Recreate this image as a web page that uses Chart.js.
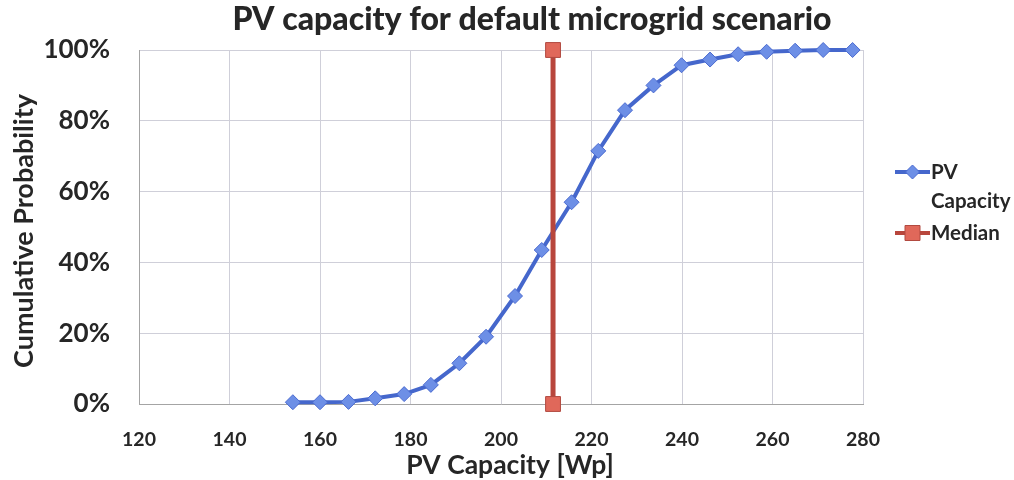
<!DOCTYPE html>
<html>
<head>
<meta charset="utf-8">
<script src="https://cdn.jsdelivr.net/npm/chart.js@4.4.1/dist/chart.umd.min.js"></script>
<style>
  html, body { margin: 0; padding: 0; background: #ffffff; }
  #wrap { width: 1014px; height: 480px; }
</style>
</head>
<body>
<div id="wrap"><canvas id="cdf" width="1014" height="480"></canvas></div>
<script>
// PV capacity samples (Wp) and their cumulative probability
const pvCapacity = [154.0, 160.0, 166.3, 172.2, 178.6, 184.5, 190.8, 196.7, 203.1, 209.0, 215.6,
                    221.5, 227.4, 233.7, 239.9, 246.2, 252.4, 258.7, 265.0, 271.2, 277.7];
const cumulativeProb = [0.005, 0.005, 0.006, 0.016, 0.028, 0.054, 0.115, 0.19, 0.305, 0.435, 0.57,
                        0.715, 0.83, 0.90, 0.957, 0.973, 0.988, 0.995, 0.998, 1.0, 1.0];
// Median marker: vertical line spanning 0..100%
const medianX = [211.5, 211.5];
const medianY = [0, 1];

const xTicks = [120, 140, 160, 180, 200, 220, 240, 260, 280];
const yTicks = [0, 0.2, 0.4, 0.6, 0.8, 1.0];

const titleText = 'PV capacity for default microgrid scenario';
const xTitle = 'PV Capacity [Wp]';
const yTitle = 'Cumulative Probability';
const legendItems = [
  { lines: ['PV', 'Capacity'], line: '#4567cc', fill: '#6d8fe6', stroke: '#4a6ad0', shape: 'diamond' },
  { lines: ['Median'], line: '#b8463c', fill: '#e0685a', stroke: '#b24a40', shape: 'square' }
];

const FONT = 'Lato, "Open Sans", sans-serif';
const TEXT = '#262626';

const toPoints = (xs, ys) => xs.map((x, i) => ({ x: x, y: ys[i] }));

// Title, axis titles and the wrapped legend are painted here
const decorations = {
  id: 'decorations',
  afterDraw(chart) {
    const ctx = chart.ctx;
    ctx.save();
    ctx.fillStyle = TEXT;
    ctx.textAlign = 'center';
    ctx.textBaseline = 'middle';

    ctx.font = '900 32px ' + FONT;
    ctx.fillText(titleText, 532, 20);

    ctx.font = 'bold 26.5px ' + FONT;
    ctx.fillText(xTitle, 510, 465);

    ctx.save();
    ctx.translate(24, 231);
    ctx.rotate(-Math.PI / 2);
    ctx.font = 'bold 27px ' + FONT;
    ctx.fillText(yTitle, 0, 0);
    ctx.restore();

    // legend
    ctx.textAlign = 'left';
    ctx.font = 'bold 20.5px ' + FONT;
    let y = 172;
    legendItems.forEach(item => {
      ctx.strokeStyle = item.line;
      ctx.lineWidth = 4;
      ctx.beginPath();
      ctx.moveTo(895, y);
      ctx.lineTo(930, y);
      ctx.stroke();
      ctx.fillStyle = item.fill;
      ctx.strokeStyle = item.stroke;
      ctx.lineWidth = 1;
      ctx.beginPath();
      if (item.shape === 'diamond') {
        ctx.moveTo(912.5, y - 7); ctx.lineTo(919.5, y); ctx.lineTo(912.5, y + 7); ctx.lineTo(905.5, y);
        ctx.closePath();
      } else {
        ctx.rect(905, y - 7.5, 15, 15);
      }
      ctx.fill();
      ctx.stroke();
      ctx.fillStyle = TEXT;
      item.lines.forEach((t, i) => ctx.fillText(t, 931, y + i * 29));
      y += item.lines.length * 29 + 3;
    });
    ctx.restore();
  }
};

new Chart(document.getElementById('cdf'), {
  type: 'scatter',
  data: {
    datasets: [
      {
        label: 'PV Capacity',
        data: toPoints(pvCapacity, cumulativeProb),
        showLine: true,
        borderColor: '#4567cc',
        borderWidth: 4,
        pointStyle: 'rectRot',
        pointRadius: 7.5,
        pointBackgroundColor: '#6d8fe6',
        pointBorderColor: '#4a6ad0',
        pointBorderWidth: 1,
        tension: 0,
        clip: false,
        order: 2
      },
      {
        label: 'Median',
        data: toPoints(medianX, medianY),
        showLine: true,
        borderColor: '#b8463c',
        borderWidth: 5,
        pointStyle: 'rect',
        pointRadius: 10.5,
        pointBackgroundColor: '#e0685a',
        pointBorderColor: '#b24a40',
        pointBorderWidth: 1,
        clip: false,
        order: 1
      }
    ]
  },
  plugins: [decorations],
  options: {
    responsive: false,
    animation: false,
    events: [],
    layout: { padding: { top: 50, right: 151, left: 0, bottom: 0 } },
    plugins: {
      legend: { display: false },
      title: { display: false },
      tooltip: { enabled: false }
    },
    scales: {
      x: {
        type: 'linear',
        min: 120,
        max: 280,
        afterFit(scale) { scale.height = 76; },
        afterBuildTicks(scale) { scale.ticks = xTicks.map(v => ({ value: v })); },
        grid: { color: '#cfcfd9', lineWidth: 1, drawTicks: false },
        border: { color: '#a4a4a4', width: 1 },
        ticks: {
          padding: 24,
          color: TEXT,
          font: { family: FONT, size: 19.5, weight: 'bold' }
        }
      },
      y: {
        type: 'linear',
        min: 0,
        max: 1,
        afterFit(scale) { scale.width = 139; },
        afterBuildTicks(scale) { scale.ticks = yTicks.map(v => ({ value: v })); },
        grid: { color: '#cfcfd9', lineWidth: 1, drawTicks: false },
        border: { color: '#a4a4a4', width: 1 },
        ticks: {
          padding: 29,
          color: TEXT,
          font: { family: FONT, size: 26, weight: 'bold' },
          callback: v => Math.round(v * 100) + '%'
        }
      }
    }
  }
});
</script>
</body>
</html>
